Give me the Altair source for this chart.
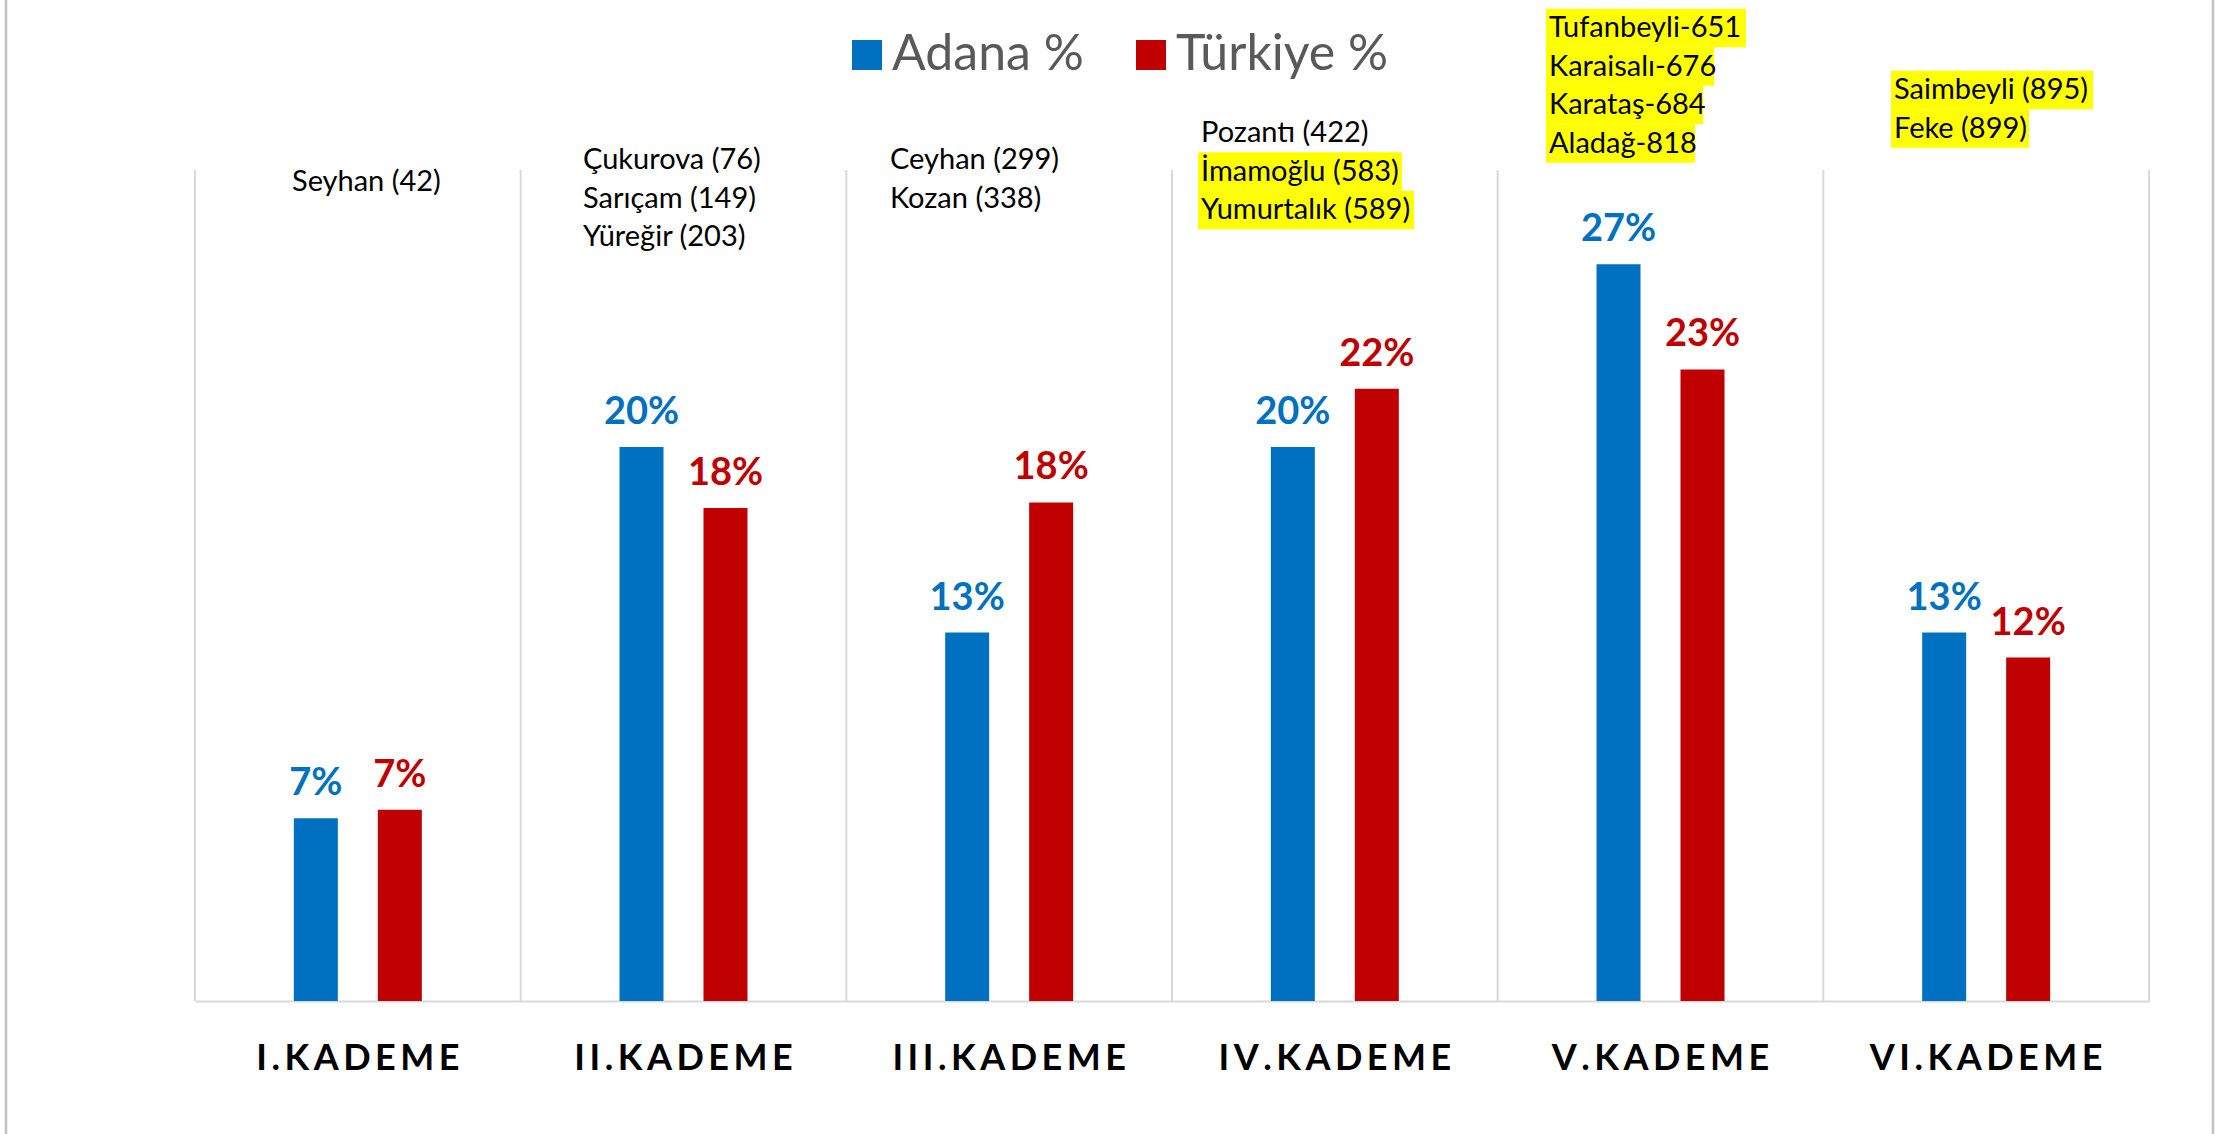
import altair as alt
import pandas as pd

# ---------------- data ----------------
categories = ["I.KADEME", "II.KADEME", "III.KADEME", "IV.KADEME", "V.KADEME", "VI.KADEME"]
series = ["Adana %", "Türkiye %"]
adana = [0.066, 0.200, 0.133, 0.200, 0.266, 0.133]
turkiye = [0.069, 0.178, 0.180, 0.221, 0.228, 0.124]

ann_lines = [
    ["Seyhan (42)"],
    ["Çukurova (76)", "Sarıçam (149)", "Yüreğir (203)"],
    ["Ceyhan (299)", "Kozan (338)"],
    ["Pozantı (422)", "İmamoğlu (583)", "Yumurtalık (589)"],
    ["Tufanbeyli-651", "Karaisalı-676", "Karataş-684", "Aladağ-818"],
    ["Saimbeyli (895)", "Feke (899)"],
]
ann_highlight = [
    [False],
    [False, False, False],
    [False, False],
    [False, True, True],
    [True, True, True, True],
    [True, True],
]

# ---------------- layout (pixels, relative to plot origin) ----------------
W, H = 1954, 831
PAD = {"left": 195, "top": 170, "right": 77, "bottom": 133}
ann_x = [97, 388, 695, 1006, 1354, 1699]
ann_y0 = [12, -10, -10, -37, -142, -80]
line_h = 38.5
hl_width = [[0], [0, 0, 0], [0, 0], [0, 204, 216], [200, 168, 157, 149], [202, 138]]

BLUE, RED = "#0070C0", "#C00000"
FONT = "Lato"

bars_df = pd.DataFrame(
    [{"cat": c, "series": series[0], "value": v} for c, v in zip(categories, adana)]
    + [{"cat": c, "series": series[1], "value": v} for c, v in zip(categories, turkiye)]
)

rows = []
for i, lines in enumerate(ann_lines):
    for j, t in enumerate(lines):
        cy = ann_y0[i] + j * line_h
        rows.append({
            "text": t, "px": ann_x[i], "py": cy, "hl": ann_highlight[i][j],
            "x0": ann_x[i] - 3, "x1": ann_x[i] - 3 + hl_width[i][j],
            "y0": cy - line_h / 2, "y1": cy + line_h / 2,
        })
ann_df = pd.DataFrame(rows)
hl_df = ann_df[ann_df["hl"]]

# group band narrowed symmetrically so centres stay at the category centres
xscale = alt.Scale(domain=categories, paddingInner=0.607, paddingOuter=0.3035)
offscale = alt.Scale(domain=series, paddingInner=0.476, paddingOuter=0)
gridscale = alt.Scale(domain=categories, paddingInner=0, paddingOuter=0)
yscale = alt.Scale(domain=[0, 0.30], nice=False, zero=True)
cscale = alt.Scale(domain=series, range=[BLUE, RED])

base = alt.Chart(bars_df)

bars = base.mark_bar().encode(
    x=alt.X(
        "cat:N", scale=xscale, sort=categories, title=None,
        axis=alt.Axis(
            grid=False, ticks=False, domain=True, domainColor="#d9d9d9", domainWidth=2,
            labelAngle=0, labelFont=FONT, labelFontSize=36, labelFontWeight="bold",
            labelColor="#000000", labelPadding=40, labelLimit=1000,
            labelAlign="center", labelFlush=False, bandPosition=0.5,
            labelExpr="join(split(datum.label, ''), '\u2009')",
        ),
    ),
    xOffset=alt.XOffset("series:N", scale=offscale, sort=series),
    y=alt.Y("value:Q", scale=yscale, axis=None),
    color=alt.Color(
        "series:N", scale=cscale, sort=series, title=None,
        legend=alt.Legend(
            orient="none", legendX=647, legendY=-140, direction="horizontal", columns=2,
            symbolType="square", symbolSize=900, symbolStrokeWidth=0,
            labelFont=FONT, labelFontSize=50, labelColor="#595959", labelLimit=1000,
            labelOffset=0, columnPadding=42, padding=0,
        ),
    ),
)

labels = base.mark_text(
    font=FONT, fontSize=38, fontWeight="bold", baseline="alphabetic", dy=-23
).encode(
    x=alt.X("cat:N", scale=xscale, sort=categories),
    xOffset=alt.XOffset("series:N", scale=offscale, sort=series),
    y=alt.Y("value:Q", scale=yscale),
    text=alt.Text("value:Q", format=".0%"),
    color=alt.Color("series:N", scale=cscale, sort=series, legend=None),
)

main = alt.layer(bars, labels)

grid_df = pd.DataFrame({"cat": categories})
grid = alt.Chart(grid_df).mark_rule(color="#d9d9d9", strokeWidth=2).encode(
    x=alt.X("cat:N", scale=gridscale, sort=categories, bandPosition=0, axis=None),
)
grid_end = alt.Chart(grid_df.tail(1)).mark_rule(color="#d9d9d9", strokeWidth=2).encode(
    x=alt.X("cat:N", scale=gridscale, sort=categories, bandPosition=1, axis=None),
)
grids = alt.layer(grid, grid_end)

hl = alt.Chart(hl_df).mark_rect(color="#FFFF00").encode(
    x=alt.X("x0:Q", scale=None, axis=None),
    x2="x1:Q",
    y=alt.Y("y0:Q", scale=None, axis=None),
    y2="y1:Q",
)
ann = alt.Chart(ann_df).mark_text(
    font=FONT, fontSize=29, align="left", baseline="middle", color="#000000"
).encode(
    x=alt.X("px:Q", scale=None, axis=None),
    y=alt.Y("py:Q", scale=None, axis=None),
    text="text:N",
)

border_l = alt.Chart(grid_df.head(1)).mark_rule(color="#c0c0c0", strokeWidth=2.5).encode(
    x=alt.value(-189), y=alt.value(-170), y2=alt.value(964)
)
border_r = alt.Chart(grid_df.head(1)).mark_rule(color="#c0c0c0", strokeWidth=2.5).encode(
    x=alt.value(2018), y=alt.value(-170), y2=alt.value(964)
)

chart = alt.layer(grids, main, hl, ann, border_l, border_r).resolve_scale(
    x="independent", y="independent"
).properties(
    width=W, height=H,
    autosize=alt.AutoSizeParams(type="none"),
    padding=PAD,
    background="white",
).configure_view(stroke=None)

chart.save("out.html", embed_options={"renderer": "svg", "actions": False})
